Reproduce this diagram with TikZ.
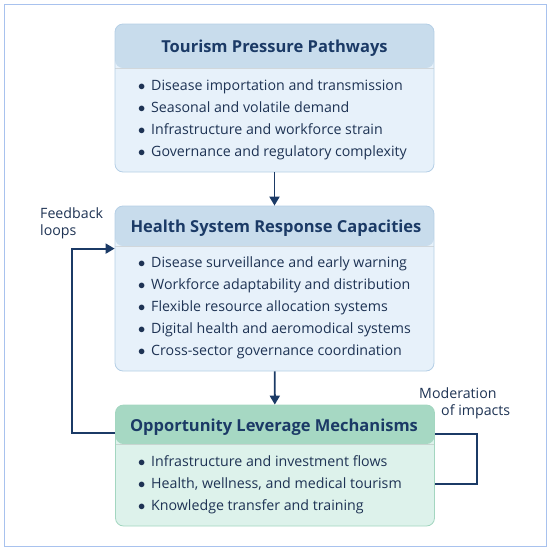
\documentclass[tikz,border=0pt]{standalone}
\usepackage{fontspec}
\setmainfont{Open Sans}
\usetikzlibrary{arrows.meta,calc}
\definecolor{bluehead}{HTML}{C8DCEC}
\definecolor{bluebody}{HTML}{E7F1FA}
\definecolor{blueedge}{HTML}{B5CFE6}
\definecolor{greenhead}{HTML}{A6D8C3}
\definecolor{greenbody}{HTML}{DDF2EB}
\definecolor{greenedge}{HTML}{A3D6C0}
\definecolor{navy}{HTML}{1B3A66}
\definecolor{ink}{HTML}{1E3354}
\definecolor{framecol}{HTML}{A8C2EE}
\tikzset{
  panel/.style={rectangle,rounded corners=8pt,minimum width=319pt,line width=0.8pt,inner sep=0pt},
  head/.style 2 args={path picture={
      \fill[#1] (path picture bounding box.north west) rectangle ([yshift=-#2]path picture bounding box.north east);
      \draw[#1!70!black!40!white,line width=0.5pt] ([yshift=-#2]path picture bounding box.north west) -- ([yshift=-#2]path picture bounding box.north east);}},
  bluepanel/.style={panel,draw=blueedge,fill=bluebody},
  greenpanel/.style={panel,draw=greenedge,fill=greenbody},
  heading/.style={font=\fontsize{16.5}{20}\selectfont\bfseries,text=navy},
  itemlist/.style={font=\fontsize{14.2}{22}\selectfont,text=ink,align=left,anchor=west,inner sep=0pt},
  note/.style={font=\fontsize{14.2}{17}\selectfont,text=ink,align=left,anchor=north west,inner sep=0pt},
  flow/.style={->,draw=navy,line width=1.9pt},
  link/.style={draw=navy,line width=1.9pt}
}
\newcommand{\bul}{\makebox[13pt][l]{\raisebox{0.3pt}{$\bullet$}}}

\begin{document}
\begin{tikzpicture}[x=1pt,y=-1pt,>={Stealth[inset=0pt,length=9pt,width=10pt]}]
  \useasboundingbox (0,0) rectangle (550,550);
  \draw[framecol,line width=1pt] (4,4) rectangle (546,546);

  % the three panels
  \node[bluepanel,minimum height=148pt,head={bluehead}{44pt}] (tpp) at (274.5,98) {};
  \node[bluepanel,minimum height=165pt,head={bluehead}{40pt}] (hsr) at (274.5,288.5) {};
  \node[greenpanel,minimum height=121pt,head={greenhead}{39pt}] (olm) at (275,465.5) {};

  \node[heading] (tpp-title) at (274.5,48) {Tourism Pressure Pathways};
  \node[heading] (hsr-title) at (276,228) {Health System Response Capacities};
  \node[heading] (olm-title) at (274,427) {Opportunity Leverage Mechanisms};

  \node[itemlist] (tpp-list) at (138,120) {\bul Disease importation and transmission\\
    \bul Seasonal and volatile demand\\
    \bul Infrastructure and workforce strain\\
    \bul Governance and regulatory complexity};
  \node[itemlist] (hsr-list) at (138,308) {\bul Disease surveillance and early warning\\
    \bul Workforce adaptability and distribution\\
    \bul Flexible resource allocation systems\\
    \bul Digital health and aeromodical systems\\
    \bul Cross-sector governance coordination};
  \node[itemlist] (olm-list) at (138,485) {\bul Infrastructure and investment flows\\
    \bul Health, wellness, and medical tourism\\
    \bul Knowledge transfer and training};

  % connectors
  \draw[flow] (tpp) -- (hsr);
  \draw[flow] (hsr) -- (olm);
  \draw[flow] ($(olm.north west)+(0,28)$) -- ++(-43,0) |- ($(hsr.north west)+(0,43)$);
  \draw[link] ($(olm.north east)+(0,29)$) -- ++(42,0) |- ($(olm.north east)+(0,79)$);

  \node[note] (fb) at (40,208) {Feedback\\loops};
  \node[note] (mod) at (419,388) {Moderation\\\hspace*{22pt}of impacts};
\end{tikzpicture}
\end{document}
